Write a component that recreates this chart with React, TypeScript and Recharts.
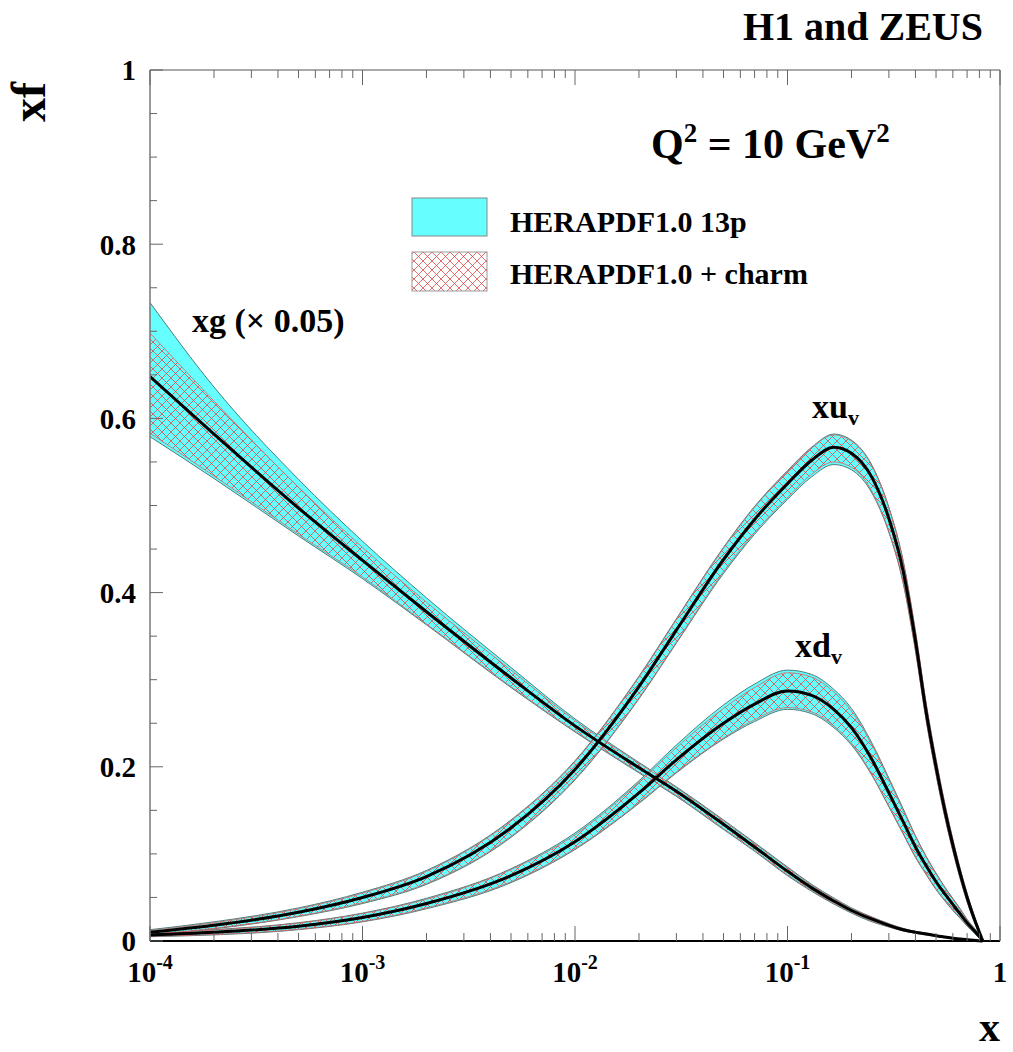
import React from 'react';
import { ComposedChart, Area, Line, XAxis, YAxis } from 'recharts';

// x grid of the curves
const xs = [0.0001, 0.0002, 0.0005, 0.001, 0.002, 0.005, 0.01, 0.02, 0.03, 0.05, 0.07, 0.1, 0.13, 0.165, 0.2, 0.25, 0.3, 0.35, 0.4, 0.45, 0.5, 0.55, 0.6, 0.65, 0.7, 0.75, 0.8, 0.83];

// xg (x 0.05)
const xgC = [0.648, 0.582, 0.497, 0.437, 0.378, 0.302, 0.247, 0.199, 0.172, 0.134, 0.108, 0.08, 0.061, 0.046, 0.035, 0.025, 0.018, 0.013, 0.01, 0.008, 0.006, 0.0045, 0.0032, 0.0022, 0.0015, 0.0009, 0.0004, 0];
const xgCyHi = [0.733, 0.636, 0.53, 0.459, 0.394, 0.314, 0.255, 0.205, 0.177, 0.139, 0.113, 0.085, 0.065, 0.0495, 0.038, 0.0275, 0.02, 0.0145, 0.011, 0.009, 0.0068, 0.0052, 0.0037, 0.0026, 0.0018, 0.0011, 0.0005, 0];
const xgCyLo = [0.579, 0.531, 0.465, 0.416, 0.363, 0.291, 0.24, 0.193, 0.166, 0.128, 0.103, 0.075, 0.057, 0.0425, 0.032, 0.022, 0.016, 0.0115, 0.009, 0.007, 0.0052, 0.0039, 0.0027, 0.0018, 0.0012, 0.0007, 0.0003, 0];
const xgHHi = [0.698, 0.62, 0.521, 0.452, 0.389, 0.311, 0.253, 0.204, 0.176, 0.138, 0.112, 0.084, 0.064, 0.0485, 0.037, 0.027, 0.0195, 0.0142, 0.0108, 0.0088, 0.0066, 0.005, 0.0036, 0.0025, 0.0017, 0.001, 0.0005, 0];
const xgHLo = [0.583, 0.534, 0.467, 0.418, 0.364, 0.292, 0.241, 0.194, 0.167, 0.129, 0.104, 0.076, 0.058, 0.0435, 0.033, 0.023, 0.0165, 0.0118, 0.0092, 0.0072, 0.0054, 0.004, 0.0028, 0.0019, 0.0013, 0.0008, 0.0003, 0];

// xu_v
const xuC = [0.01, 0.018, 0.033, 0.05, 0.074, 0.13, 0.197, 0.292, 0.357, 0.438, 0.484, 0.525, 0.552, 0.567, 0.56, 0.532, 0.485, 0.425, 0.345, 0.262, 0.2, 0.15, 0.11, 0.077, 0.05, 0.028, 0.01, 0];
const xuCyHi = [0.013, 0.022, 0.038, 0.056, 0.081, 0.139, 0.207, 0.304, 0.37, 0.452, 0.499, 0.54, 0.567, 0.582, 0.575, 0.546, 0.498, 0.437, 0.356, 0.272, 0.209, 0.158, 0.117, 0.083, 0.055, 0.032, 0.012, 0];
const xuCyLo = [0.007, 0.014, 0.028, 0.043, 0.065, 0.119, 0.185, 0.278, 0.342, 0.422, 0.467, 0.507, 0.533, 0.547, 0.541, 0.514, 0.469, 0.411, 0.333, 0.252, 0.191, 0.142, 0.103, 0.071, 0.045, 0.024, 0.008, 0];
const xuHHi = [0.012, 0.021, 0.037, 0.055, 0.08, 0.138, 0.206, 0.303, 0.369, 0.451, 0.498, 0.539, 0.566, 0.581, 0.574, 0.545, 0.497, 0.436, 0.355, 0.271, 0.208, 0.157, 0.116, 0.082, 0.054, 0.031, 0.011, 0];
const xuHLo = [0.0075, 0.0145, 0.0285, 0.044, 0.066, 0.12, 0.186, 0.279, 0.343, 0.424, 0.469, 0.509, 0.536, 0.55, 0.544, 0.516, 0.47, 0.412, 0.334, 0.253, 0.192, 0.143, 0.104, 0.072, 0.046, 0.025, 0.0085, 0];

// xd_v
const xdC = [0.007, 0.01, 0.017, 0.027, 0.043, 0.075, 0.114, 0.17, 0.208, 0.25, 0.272, 0.287, 0.282, 0.266, 0.245, 0.208, 0.17, 0.137, 0.108, 0.086, 0.068, 0.054, 0.042, 0.031, 0.021, 0.013, 0.005, 0];
const xdCyHi = [0.009, 0.013, 0.021, 0.032, 0.049, 0.083, 0.124, 0.184, 0.225, 0.271, 0.295, 0.311, 0.306, 0.289, 0.267, 0.227, 0.187, 0.152, 0.121, 0.097, 0.078, 0.062, 0.049, 0.037, 0.025, 0.016, 0.007, 0];
const xdCyLo = [0.005, 0.007, 0.013, 0.022, 0.037, 0.067, 0.105, 0.158, 0.193, 0.232, 0.252, 0.266, 0.261, 0.245, 0.225, 0.19, 0.154, 0.123, 0.096, 0.076, 0.059, 0.046, 0.035, 0.026, 0.017, 0.01, 0.003, 0];
const xdHHi = [0.0085, 0.0125, 0.0205, 0.0315, 0.048, 0.082, 0.122, 0.182, 0.222, 0.267, 0.291, 0.308, 0.303, 0.286, 0.264, 0.225, 0.185, 0.15, 0.12, 0.096, 0.077, 0.061, 0.048, 0.036, 0.024, 0.015, 0.006, 0];
const xdHLo = [0.0055, 0.0075, 0.0135, 0.0225, 0.038, 0.068, 0.106, 0.159, 0.194, 0.233, 0.254, 0.268, 0.263, 0.247, 0.227, 0.191, 0.155, 0.124, 0.097, 0.077, 0.06, 0.047, 0.036, 0.027, 0.018, 0.011, 0.0035, 0];

const xDecades = [0.0001, 0.001, 0.01, 0.1];
const xTicks = [...xDecades.flatMap((d) => [1, 2, 3, 4, 5, 6, 7, 8, 9].map((m) => m * d)), 1];
const yTicks = [0, 0.05, 0.1, 0.15, 0.2, 0.25, 0.3, 0.35, 0.4, 0.45, 0.5, 0.55, 0.6, 0.65, 0.7, 0.75, 0.8, 0.85, 0.9, 0.95, 1];
const yLabels = ['0', '0.2', '0.4', '0.6', '0.8', '1'];

const data = xs.map((x, i) => ({
  x,
  xgCy: [xgCyLo[i], xgCyHi[i]],
  xgH: [xgHLo[i], xgHHi[i]],
  xg: xgC[i],
  xuCy: [xuCyLo[i], xuCyHi[i]],
  xuH: [xuHLo[i], xuHHi[i]],
  xu: xuC[i],
  xdCy: [xdCyLo[i], xdCyHi[i]],
  xdH: [xdHLo[i], xdHHi[i]],
  xd: xdC[i],
}));

const FONT = '"Liberation Serif", "DejaVu Serif", serif';
const CYAN = '#66ffff';
const TICK = '#666';

const isMajorX = (v: number) => Math.abs(Math.log10(v) - Math.round(Math.log10(v))) < 1e-6;
const yLabel = (v: number) => yLabels.find((l) => Math.abs(parseFloat(l) - v) < 1e-6);

const BottomTick = (p: any) => {
  const v = p.payload.value;
  const major = isMajorX(v);
  const e = Math.round(Math.log10(v));
  return (
    <g>
      <line x1={p.x} x2={p.x} y1={p.y} y2={p.y - (major ? 15 : 8)} stroke={TICK} />
      {major && (
        <text x={p.x} y={p.y + 41} textAnchor="middle" fontFamily={FONT} fontWeight="bold" fontSize={29} fill="#000">
          {e === 0 ? '1' : '10'}
          {e !== 0 && <tspan dy={-13} fontSize={20}>{String(e)}</tspan>}
        </text>
      )}
    </g>
  );
};

const TopTick = (p: any) => {
  const major = isMajorX(p.payload.value);
  return <line x1={p.x} x2={p.x} y1={p.y} y2={p.y + (major ? 15 : 8)} stroke={TICK} />;
};

const LeftTick = (p: any) => {
  const lab = yLabel(p.payload.value);
  return (
    <g>
      <line x1={p.x} x2={p.x + (lab ? 13 : 7)} y1={p.y} y2={p.y} stroke={TICK} />
      {lab && (
        <text x={p.x - 14} y={p.y} dy="0.36em" textAnchor="end" fontFamily={FONT} fontWeight="bold" fontSize={29} fill="#000">
          {lab}
        </text>
      )}
    </g>
  );
};

const RightTick = (p: any) => {
  const lab = yLabel(p.payload.value);
  return <line x1={p.x} x2={p.x - (lab ? 13 : 7)} y1={p.y} y2={p.y} stroke={TICK} />;
};

const pdfs = ['xg', 'xd', 'xu'];

export default function App() {
  return (
    <div style={{ position: 'absolute', left: 0, top: 0, width: 1013, height: 1052, background: '#fff' }}>
      <ComposedChart width={1013} height={1052} data={data} margin={{ top: 69, right: 12, bottom: 110, left: 149 }}>
        <defs>
          <pattern id="hatch" width="9" height="9" patternUnits="userSpaceOnUse">
            <path d="M0,0 L9,9 M9,0 L0,9" stroke="#e04848" strokeWidth={0.8} />
          </pattern>
        </defs>
        {pdfs.map((k) => (
          <Area key={k + 'Cy'} dataKey={k + 'Cy'} xAxisId="b" yAxisId="l" type="monotone" fill={CYAN} fillOpacity={1} stroke="#3d7070" strokeWidth={0.9} isAnimationActive={false} />
        ))}
        {pdfs.map((k) => (
          <Area key={k + 'H'} dataKey={k + 'H'} xAxisId="b" yAxisId="l" type="monotone" fill="url(#hatch)" fillOpacity={1} stroke="#d86060" strokeWidth={0.8} isAnimationActive={false} />
        ))}
        {pdfs.map((k) => (
          <Line key={k} dataKey={k} xAxisId="b" yAxisId="l" type="monotone" stroke="#000" strokeWidth={3} dot={false} isAnimationActive={false} />
        ))}
        <XAxis xAxisId="b" dataKey="x" type="number" scale="log" domain={[0.0001, 1]} allowDataOverflow ticks={xTicks} interval={0} height={1} tickSize={0} tickMargin={0} tickLine={false} axisLine={{ stroke: '#000', strokeWidth: 2 }} tick={BottomTick} />
        <XAxis xAxisId="t" orientation="top" dataKey="x" type="number" scale="log" domain={[0.0001, 1]} allowDataOverflow ticks={xTicks} interval={0} height={1} tickSize={0} tickMargin={0} tickLine={false} axisLine={{ stroke: '#555', strokeWidth: 1 }} tick={TopTick} />
        <YAxis yAxisId="l" type="number" domain={[0, 1]} ticks={yTicks} interval={0} width={1} tickSize={0} tickMargin={0} tickLine={false} axisLine={{ stroke: '#777', strokeWidth: 1.5 }} tick={LeftTick} />
        <YAxis yAxisId="r" orientation="right" type="number" domain={[0, 1]} ticks={yTicks} interval={0} width={1} tickSize={0} tickMargin={0} tickLine={false} axisLine={{ stroke: '#555', strokeWidth: 1 }} tick={RightTick} />
      </ComposedChart>
      <svg width={1013} height={1052} style={{ position: 'absolute', left: 0, top: 0, pointerEvents: 'none' }} fontFamily={FONT} fontWeight="bold">
        <defs>
          <pattern id="hatchLegend" width="9" height="9" patternUnits="userSpaceOnUse">
            <path d="M0,0 L9,9 M9,0 L0,9" stroke="#e04848" strokeWidth={0.8} />
          </pattern>
        </defs>
        <text x={983} y={40} textAnchor="end" fontSize={40}>H1 and ZEUS</text>
        <text transform="translate(45,122) rotate(-90)" fontSize={48}>xf</text>
        <text x={1000} y={1041} textAnchor="end" fontSize={42}>x</text>
        <text x={651} y={158} fontSize={42}>
          Q<tspan dy={-16} fontSize={27}>2</tspan>
          <tspan dy={16}> = 10 GeV</tspan>
          <tspan dy={-16} fontSize={27}>2</tspan>
        </text>
        <rect x={412} y={198} width={75} height={38} fill={CYAN} stroke="#888" />
        <rect x={412} y={252} width={75} height={39} fill="url(#hatchLegend)" stroke="#999" />
        <text x={510} y={232} fontSize={30}>HERAPDF1.0 13p</text>
        <text x={510} y={284} fontSize={30}>HERAPDF1.0 + charm</text>
        <text x={192} y={332} fontSize={34}>xg (× 0.05)</text>
        <text x={812} y={418} fontSize={34}>
          xu<tspan dy={7} fontSize={22}>v</tspan>
        </text>
        <text x={795} y={657} fontSize={34}>
          xd<tspan dy={7} fontSize={22}>v</tspan>
        </text>
      </svg>
    </div>
  );
}
